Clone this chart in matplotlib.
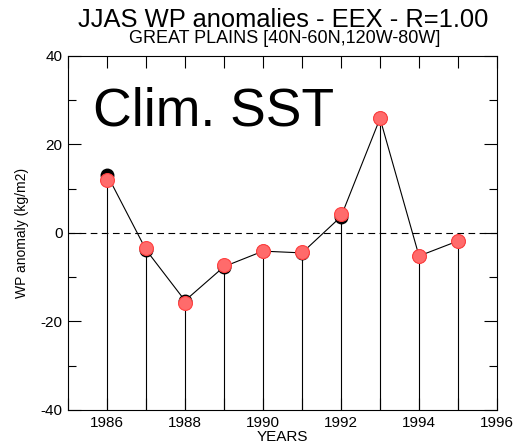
import matplotlib
matplotlib.use("Agg")
import matplotlib.pyplot as plt
from matplotlib.ticker import MultipleLocator

years = [1986, 1987, 1988, 1989, 1990, 1991, 1992, 1993, 1994, 1995]
wp_obs = [13.2, -3.8, -15.3, -7.6, -4.1, -4.5, 3.7, 25.9, -5.2, -1.8]
wp_model = [12.0, -3.5, -15.8, -7.2, -4.0, -4.4, 4.3, 26.0, -5.1, -1.7]

plt.rcParams["font.family"] = ["Liberation Sans", "DejaVu Sans"]
plt.rcParams["axes.unicode_minus"] = False

fig = plt.figure(figsize=(5.18, 4.44), dpi=100)
ax = fig.add_axes([0.1313, 0.0766, 0.8282, 0.7973])

# stems down to the bottom of the axis
ax.vlines(years, -40, wp_obs, color="black", linewidth=0.8, zorder=2)
ax.axhline(0, color="black", linestyle=(0, (6, 4)), linewidth=0.8, zorder=1)
ax.plot(years, wp_obs, "-o", color="black", linewidth=0.8,
        markersize=9, zorder=3)
ax.plot(years, wp_model, "o", linestyle="none", markersize=10,
        markerfacecolor="#ff6b6b", markeredgecolor="#ff4040",
        markeredgewidth=0.8, zorder=4)

ax.set_xlim(1985, 1996)
ax.set_ylim(-40, 40)
ax.xaxis.set_major_locator(MultipleLocator(2))
ax.xaxis.set_minor_locator(MultipleLocator(1))
ax.yaxis.set_major_locator(MultipleLocator(20))
ax.yaxis.set_minor_locator(MultipleLocator(10))
ax.tick_params(axis="both", which="both", direction="in", top=True,
               right=True, labelsize=11, width=0.8, pad=4)
ax.tick_params(axis="x", which="both", length=8.5)
ax.tick_params(axis="y", which="major", length=9.5)
ax.tick_params(axis="y", which="minor", length=6)
for s in ax.spines.values():
    s.set_linewidth(0.8)

ax.set_xlabel("YEARS", fontsize=11, labelpad=0)
ax.set_ylabel("WP anomaly (kg/m2)", fontsize=10, labelpad=8)

ax.text(0.058, 0.805, "Clim. SST", transform=ax.transAxes, fontsize=38.5,
        ha="left", va="baseline")

fig.text(0.546, 0.940, "JJAS WP anomalies - EEX - R=1.00", fontsize=18.4,
         ha="center", va="baseline")
fig.text(0.549, 0.903, "GREAT PLAINS [40N-60N,120W-80W]", fontsize=13,
         ha="center", va="baseline")

fig.savefig("out.png", dpi=100)
